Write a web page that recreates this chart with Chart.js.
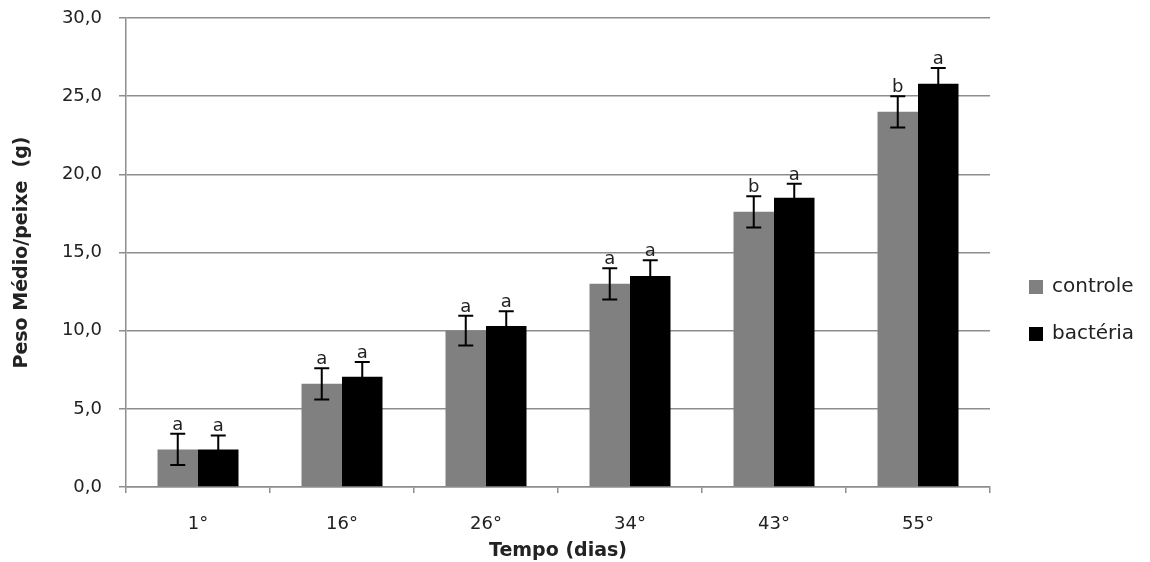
<!DOCTYPE html>
<html>
<head>
<meta charset="utf-8">
<script src="https://cdn.jsdelivr.net/npm/chart.js@4/dist/chart.umd.min.js"></script>
<style>
  html, body { margin: 0; padding: 0; background: #fff; }
  #wrap { width: 1150px; height: 562px; position: relative; }
</style>
</head>
<body>
<div id="wrap"><canvas id="grafico"></canvas></div>
<script>
const dias = ['1°', '16°', '26°', '34°', '43°', '55°'];
const controle = [2.4, 6.6, 10.0, 13.0, 17.6, 24.0];
const bacteria = [2.4, 7.05, 10.3, 13.5, 18.5, 25.8];
const erroControle = [1.0, 1.0, 0.95, 1.0, 1.0, 1.0];
const erroBacteria = [0.9, 0.95, 0.95, 1.0, 0.9, 1.0];
const letrasControle = ['a', 'a', 'a', 'a', 'b', 'b'];
const letrasBacteria = ['a', 'a', 'a', 'a', 'a', 'a'];
const yTicks = [0, 5, 10, 15, 20, 25, 30];

const fonte = "'DejaVu Sans', Verdana, sans-serif";
const corTexto = '#222';
const corGrade = '#8e8e8e';

// barras de erro + letras de significancia
const barrasErro = {
    id: 'barrasErro',
    afterDatasetsDraw(chart) {
        const ctx = chart.ctx;
        const y = chart.scales.y;
        chart.data.datasets.forEach((ds, i) => {
            const meta = chart.getDatasetMeta(i);
            meta.data.forEach((bar, j) => {
                const v = ds.data[j];
                const e = ds.erros[j];
                const yTop = y.getPixelForValue(v + e);
                const yBot = y.getPixelForValue(v - e);
                ctx.save();
                ctx.strokeStyle = '#000';
                ctx.lineWidth = 2;
                ctx.beginPath();
                ctx.moveTo(bar.x, yTop);
                ctx.lineTo(bar.x, yBot);
                ctx.moveTo(bar.x - 7.5, yTop);
                ctx.lineTo(bar.x + 7.5, yTop);
                ctx.moveTo(bar.x - 7.5, yBot);
                ctx.lineTo(bar.x + 7.5, yBot);
                ctx.stroke();
                ctx.fillStyle = corTexto;
                ctx.font = '18px ' + fonte;
                ctx.textAlign = 'center';
                ctx.textBaseline = 'alphabetic';
                ctx.fillText(ds.letras[j], bar.x, yTop - 4);
                ctx.restore();
            });
        });
    }
};

// legenda desenhada a direita
const legenda = {
    id: 'legenda',
    afterDraw(chart) {
        const ctx = chart.ctx;
        ctx.save();
        ctx.font = '20px ' + fonte;
        ctx.textBaseline = 'middle';
        ctx.textAlign = 'left';
        const yPos = [287, 334];
        chart.data.datasets.forEach((ds, i) => {
            ctx.fillStyle = ds.backgroundColor;
            ctx.fillRect(1029, yPos[i] - 7, 14, 14);
            ctx.fillStyle = corTexto;
            ctx.fillText(ds.label, 1052, yPos[i]);
        });
        ctx.restore();
    }
};

new Chart(document.getElementById('grafico'), {
    type: 'bar',
    data: {
        labels: dias,
        datasets: [
            { label: 'controle', data: controle, erros: erroControle, letras: letrasControle, backgroundColor: '#808080' },
            { label: 'bactéria', data: bacteria, erros: erroBacteria, letras: letrasBacteria, backgroundColor: '#000000' }
        ]
    },
    options: {
        responsive: true,
        maintainAspectRatio: false,
        animation: false,
        datasets: { bar: { categoryPercentage: 0.5625, barPercentage: 1.0 } },
        layout: { padding: { top: 18, right: 160, bottom: 0, left: 0 } },
        plugins: {
            legend: { display: false },
            tooltip: { enabled: false }
        },
        scales: {
            x: {
                offset: true,
                grid: { offset: true, drawOnChartArea: false, drawTicks: true, tickLength: 6, color: corGrade, lineWidth: 1.5 },
                border: { color: corGrade, width: 1.5 },
                ticks: { color: corTexto, font: { family: fonte, size: 18 }, padding: 21, maxRotation: 0 },
                title: { display: true, text: 'Tempo (dias)', color: corTexto, font: { family: fonte, size: 19, weight: 'bold' }, padding: { top: 4, bottom: 0 } },
                afterFit(s) { s.height = 75; }
            },
            y: {
                min: 0,
                max: 30,
                afterBuildTicks(s) { s.ticks = yTicks.map(v => ({ value: v })); },
                grid: { color: corGrade, lineWidth: 1.5, tickLength: 7 },
                border: { color: corGrade, width: 1.5 },
                ticks: {
                    color: corTexto,
                    font: { family: fonte, size: 18 },
                    padding: 17,
                    callback: v => v.toFixed(1).replace('.', ',')
                },
                title: { display: true, text: 'Peso Médio/peixe  (g)', color: corTexto, font: { family: fonte, size: 19, weight: 'bold' }, padding: { top: 11, bottom: 0 } },
                afterFit(s) {
                    s.width = 126;
                    s.paddingTop = 0;
                    s.paddingBottom = 0;
                }
            }
        }
    },
    plugins: [barrasErro, legenda]
});
</script>
</body>
</html>
